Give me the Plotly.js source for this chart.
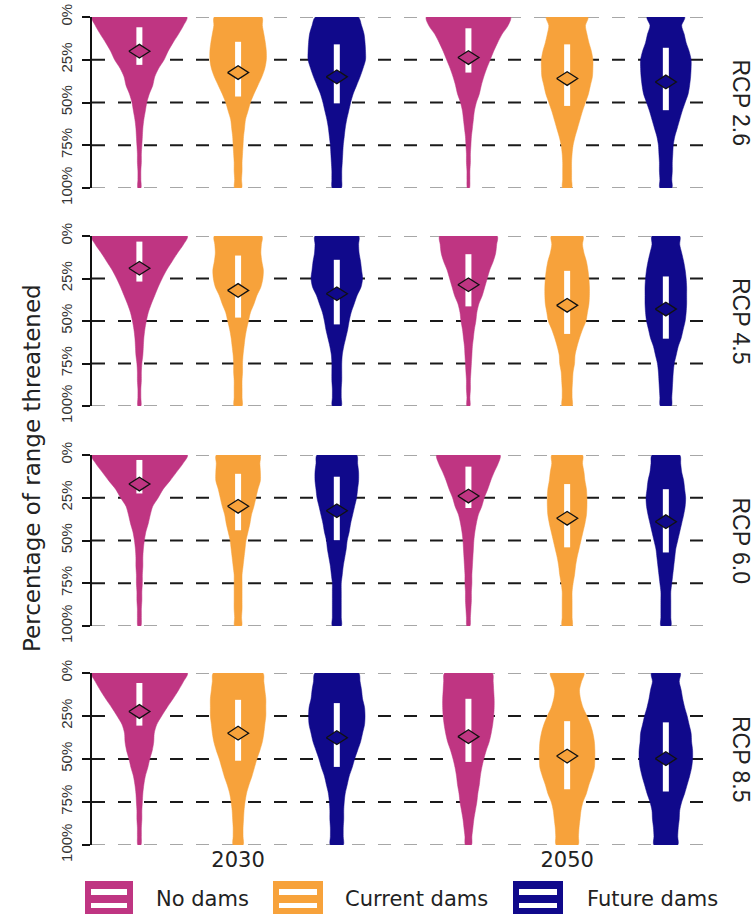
<!DOCTYPE html>
<html>
<head>
<meta charset="utf-8">
<script src="https://cdn.plot.ly/plotly-3.0.1.min.js"></script>
<style>html,body{margin:0;padding:0;background:#fff;}#chart{width:756px;height:916px;}</style>
</head>
<body>
<div id="chart"></div>
<script>
// ---------------- DATA ----------------
const scenarios = ["RCP 2.6", "RCP 4.5", "RCP 6.0", "RCP 8.5"];
const years = ["2030", "2050"];
const damTypes = ["No dams", "Current dams", "Future dams"];
const yTickVals = [0, 25, 50, 75, 100];
const yTickText = ["0%", "25%", "50%", "75%", "100%"];
// percentage levels at which the violin density (relative width) was read
const levels = [0, 5, 10, 15, 20, 25, 30, 35, 40, 45, 50, 55, 60, 65, 70, 75, 80, 85, 90, 95, 100];

// relative density (violin width) at each level
const dens_rcp26_2030_none    = [96, 89, 79, 68, 58, 50, 39, 31, 27, 20, 15, 12, 9, 7, 6, 5, 4, 4, 3, 3, 3];
const dens_rcp26_2030_current = [48, 49, 52, 55, 57, 57, 54, 48, 40, 32, 25, 20, 15, 13, 11, 10, 9, 8, 8, 7, 7];
const dens_rcp26_2030_future  = [43, 50, 55, 57, 58, 58, 53, 47, 40, 33, 28, 24, 20, 17, 15, 13, 12, 11, 10, 10, 9];
const dens_rcp26_2050_none    = [85, 80, 68, 59, 51, 44, 37, 31, 26, 22, 16, 12, 10, 8, 6, 5, 4, 4, 3, 3, 2];
const dens_rcp26_2050_current = [42, 37, 40, 44, 49, 52, 52, 51, 47, 43, 37, 31, 26, 21, 16, 12, 10, 9, 9, 9, 9];
const dens_rcp26_2050_future  = [38, 32, 37, 41, 47, 51, 51, 50, 48, 45, 39, 33, 28, 23, 18, 15, 14, 13, 13, 12, 12];

const dens_rcp45_2030_none    = [97, 89, 77, 66, 55, 46, 38, 31, 24, 18, 14, 11, 9, 8, 7, 5, 4, 4, 3, 3, 3];
const dens_rcp45_2030_current = [48, 47, 46, 48, 51, 50, 46, 38, 32, 25, 21, 17, 14, 12, 10, 9, 9, 8, 8, 8, 8];
const dens_rcp45_2030_future  = [44, 44, 45, 48, 50, 52, 49, 41, 35, 29, 25, 22, 18, 14, 11, 10, 10, 10, 9, 9, 9];
const dens_rcp45_2050_none    = [58, 57, 55, 50, 43, 38, 33, 28, 21, 17, 15, 12, 10, 8, 7, 6, 5, 4, 4, 3, 3];
const dens_rcp45_2050_current = [32, 31, 34, 39, 42, 44, 45, 45, 44, 41, 38, 31, 25, 20, 16, 15, 12, 11, 10, 10, 10];
const dens_rcp45_2050_future  = [28, 28, 32, 36, 39, 41, 42, 42, 42, 41, 39, 35, 31, 25, 21, 17, 15, 14, 13, 12, 11];

const dens_rcp60_2030_none    = [97, 88, 75, 62, 48, 38, 27, 22, 18, 13, 10, 8, 7, 7, 6, 6, 5, 5, 4, 4, 3];
const dens_rcp60_2030_current = [44, 44, 45, 45, 40, 36, 32, 27, 24, 20, 16, 14, 12, 10, 8, 8, 8, 8, 8, 7, 7];
const dens_rcp60_2030_future  = [40, 42, 44, 44, 42, 40, 36, 32, 28, 25, 21, 19, 16, 13, 11, 9, 9, 9, 9, 9, 9];
const dens_rcp60_2050_none    = [64, 60, 52, 45, 39, 32, 27, 20, 16, 13, 11, 10, 9, 8, 7, 7, 6, 6, 5, 4, 3];
const dens_rcp60_2050_current = [31, 31, 34, 36, 39, 40, 40, 39, 36, 32, 28, 24, 20, 17, 15, 12, 10, 10, 10, 10, 10];
const dens_rcp60_2050_future  = [28, 30, 32, 36, 38, 40, 39, 36, 32, 28, 24, 20, 18, 16, 14, 12, 10, 10, 10, 10, 10];

const dens_rcp85_2030_none    = [97, 89, 79, 68, 56, 45, 35, 30, 29, 26, 21, 17, 12, 9, 7, 6, 5, 5, 4, 4, 3];
const dens_rcp85_2030_current = [50, 52, 54, 56, 56, 56, 54, 52, 49, 44, 38, 33, 28, 22, 17, 14, 12, 11, 10, 10, 10];
const dens_rcp85_2030_future  = [44, 47, 50, 52, 56, 57, 56, 52, 48, 42, 36, 31, 25, 21, 17, 15, 14, 14, 13, 13, 13];
const dens_rcp85_2050_none    = [48, 50, 51, 52, 52, 51, 49, 46, 42, 36, 31, 27, 24, 22, 19, 17, 14, 11, 9, 7, 6];
const dens_rcp85_2050_current = [34, 29, 25, 27, 32, 40, 47, 52, 55, 56, 56, 55, 50, 44, 39, 32, 28, 26, 24, 23, 22];
const dens_rcp85_2050_future  = [29, 27, 31, 34, 38, 43, 47, 51, 52, 54, 54, 52, 48, 43, 38, 32, 28, 27, 25, 24, 24];

// box statistics, order: 2030 none, current, future, 2050 none, current, future
const q1_rcp26   = [6.0, 14.5, 16.0, 6.6, 16.0, 18.0];
const q3_rcp26   = [28.0, 46.5, 50.5, 32.5, 52.0, 54.5];
const mean_rcp26 = [20.0, 32.5, 35.0, 23.7, 36.0, 38.0];
const q1_rcp45   = [3.3, 11.5, 14.0, 10.7, 20.5, 23.8];
const q3_rcp45   = [26.8, 48.0, 52.0, 41.4, 57.6, 60.4];
const mean_rcp45 = [19.0, 32.0, 34.0, 28.7, 40.8, 43.0];
const q1_rcp60   = [2.9, 11.0, 12.7, 6.8, 17.0, 20.0];
const q3_rcp60   = [22.5, 44.0, 49.8, 31.0, 54.0, 57.0];
const mean_rcp60 = [17.0, 30.0, 32.6, 24.0, 37.0, 39.0];
const q1_rcp85   = [5.8, 15.6, 17.5, 15.0, 28.0, 28.7];
const q3_rcp85   = [30.6, 51.0, 54.6, 51.7, 67.6, 68.9];
const mean_rcp85 = [22.4, 35.0, 37.6, 37.0, 48.3, 49.8];

// ---------------- STYLE ----------------
const colors = ["#BF3582", "#F7A23B", "#10098B"];
const dodge = 0.3;            // x offset between dam types inside a year group
const maxHalfWidth = 0.146;   // x-units for the widest violin half
const diamondDX = 0.032, diamondDY = 4.0;
const tickFont = "Liberation Sans, Arial, sans-serif";
const wideFont = "DejaVu Sans, Liberation Sans, sans-serif";

const densBy = [
  [dens_rcp26_2030_none, dens_rcp26_2030_current, dens_rcp26_2030_future, dens_rcp26_2050_none, dens_rcp26_2050_current, dens_rcp26_2050_future],
  [dens_rcp45_2030_none, dens_rcp45_2030_current, dens_rcp45_2030_future, dens_rcp45_2050_none, dens_rcp45_2050_current, dens_rcp45_2050_future],
  [dens_rcp60_2030_none, dens_rcp60_2030_current, dens_rcp60_2030_future, dens_rcp60_2050_none, dens_rcp60_2050_current, dens_rcp60_2050_future],
  [dens_rcp85_2030_none, dens_rcp85_2030_current, dens_rcp85_2030_future, dens_rcp85_2050_none, dens_rcp85_2050_current, dens_rcp85_2050_future]
];
const q1By = [q1_rcp26, q1_rcp45, q1_rcp60, q1_rcp85];
const q3By = [q3_rcp26, q3_rcp45, q3_rcp60, q3_rcp85];
const meanBy = [mean_rcp26, mean_rcp45, mean_rcp60, mean_rcp85];

let maxDens = 0;
densBy.forEach(p => p.forEach(a => a.forEach(v => { if (v > maxDens) maxDens = v; })));
const wScale = maxHalfWidth / maxDens;

const traces = [];
scenarios.forEach((sc, pi) => {
  const yax = pi === 0 ? "y" : "y" + (pi + 1);
  years.forEach((yr, yi) => {
    damTypes.forEach((dt, di) => {
      const k = yi * 3 + di;
      const c = (yi + 1) + (di - 1) * dodge;
      const d = densBy[pi][k];
      const xs = [], ys = [];
      levels.forEach((lv, i) => { xs.push(c + d[i] * wScale); ys.push(lv); });
      for (let i = levels.length - 1; i >= 0; i--) { xs.push(c - d[i] * wScale); ys.push(levels[i]); }
      xs.push(xs[0]); ys.push(ys[0]);
      traces.push({
        type: "scatter", mode: "lines", x: xs, y: ys, xaxis: "x", yaxis: yax,
        fill: "toself", fillcolor: colors[di],
        line: { color: colors[di], width: 0.5, shape: "spline", smoothing: 0.8 },
        hoverinfo: "skip", showlegend: false, name: sc + " " + yr + " " + dt
      });
      traces.push({
        type: "scatter", mode: "lines", x: [c, c], y: [q1By[pi][k], q3By[pi][k]],
        xaxis: "x", yaxis: yax, line: { color: "#ffffff", width: 6 },
        hoverinfo: "skip", showlegend: false
      });
      const m = meanBy[pi][k];
      traces.push({
        type: "scatter", mode: "lines",
        x: [c - diamondDX, c, c + diamondDX, c, c - diamondDX],
        y: [m, m - diamondDY, m, m + diamondDY, m],
        xaxis: "x", yaxis: yax, fill: "toself", fillcolor: colors[di],
        line: { color: "#111111", width: 1.3 },
        hoverinfo: "skip", showlegend: false
      });
    });
  });
});

// ---------------- LAYOUT ----------------
const W = 756, H = 916, mL = 92, mR = 51, mT = 17, mB = 71;
const plotW = W - mL - mR, plotH = H - mT - mB;
const px = X => (X - mL) / plotW;
const py = Y => 1 - (Y - mT) / plotH;
const domains = [[py(188), py(17)], [py(406), py(236)], [py(626), py(455)], [py(845), py(673)]];

const layout = {
  width: W, height: H,
  margin: { l: mL, r: mR, t: mT, b: mB, pad: 0 },
  paper_bgcolor: "#ffffff", plot_bgcolor: "#ffffff",
  font: { family: tickFont, color: "#222222" },
  showlegend: false,
  xaxis: {
    anchor: "y4", range: [0.556, 2.419], tickvals: [1, 2], ticktext: years,
    showgrid: false, zeroline: false, showline: false, ticks: "",
    tickfont: { family: wideFont, size: 21, color: "#222" }
  },
  shapes: [], annotations: []
};

scenarios.forEach((sc, pi) => {
  const key = pi === 0 ? "yaxis" : "yaxis" + (pi + 1);
  const yref = pi === 0 ? "y" : "y" + (pi + 1);
  layout[key] = {
    domain: domains[pi], anchor: "x", range: [100, 0],
    tickvals: yTickVals, ticktext: yTickText, tickangle: -90,
    showgrid: false, zeroline: false,
    showline: true, linecolor: "#111", linewidth: 2,
    ticks: "outside", ticklen: 8, tickwidth: 2, tickcolor: "#111",
    ticklabelstandoff: 4,
    tickfont: { family: tickFont, size: 15, color: "#333" }
  };
  yTickVals.forEach(v => {
    const edge = (v === 0 || v === 100);
    layout.shapes.push({
      type: "line", xref: "paper", x0: 0, x1: 1, yref: yref, y0: v, y1: v, layer: "below",
      line: { color: edge ? "#8a8a8a" : "#1a1a1a", width: edge ? 1.6 : 2.2, dash: "13px,13px" }
    });
  });
  layout.annotations.push({
    xref: "paper", yref: yref, x: px(741), y: 50, text: sc, showarrow: false,
    textangle: 90, xanchor: "center", yanchor: "middle",
    font: { family: tickFont, size: 23, color: "#222" }
  });
});

layout.annotations.push({
  xref: "paper", yref: "paper", x: px(32), y: py(468), text: "Percentage of range threatened",
  showarrow: false, textangle: -90, xanchor: "center", yanchor: "middle",
  font: { family: wideFont, size: 23, color: "#222" }
});

// legend keys
const legBoxes = [[85, 133], [273, 323], [513, 563]];
const legText = [154, 343, 585];
damTypes.forEach((dt, di) => {
  const [x0, x1] = legBoxes[di];
  layout.shapes.push({ type: "rect", xref: "paper", yref: "paper", x0: px(x0), x1: px(x1), y0: py(914), y1: py(881), fillcolor: colors[di], line: { width: 0 } });
  layout.shapes.push({ type: "rect", xref: "paper", yref: "paper", x0: px(x0 + 6), x1: px(x1 - 6), y0: py(895), y1: py(889), fillcolor: "#ffffff", line: { width: 0 } });
  layout.shapes.push({ type: "rect", xref: "paper", yref: "paper", x0: px(x0 + 6), x1: px(x1 - 6), y0: py(908), y1: py(903), fillcolor: "#ffffff", line: { width: 0 } });
  layout.annotations.push({
    xref: "paper", yref: "paper", x: px(legText[di]), y: py(899), text: dt, showarrow: false,
    xanchor: "left", yanchor: "middle", font: { family: wideFont, size: 21, color: "#222" }
  });
});

Plotly.newPlot("chart", traces, layout, { staticPlot: true, displayModeBar: false });
</script>
</body>
</html>
